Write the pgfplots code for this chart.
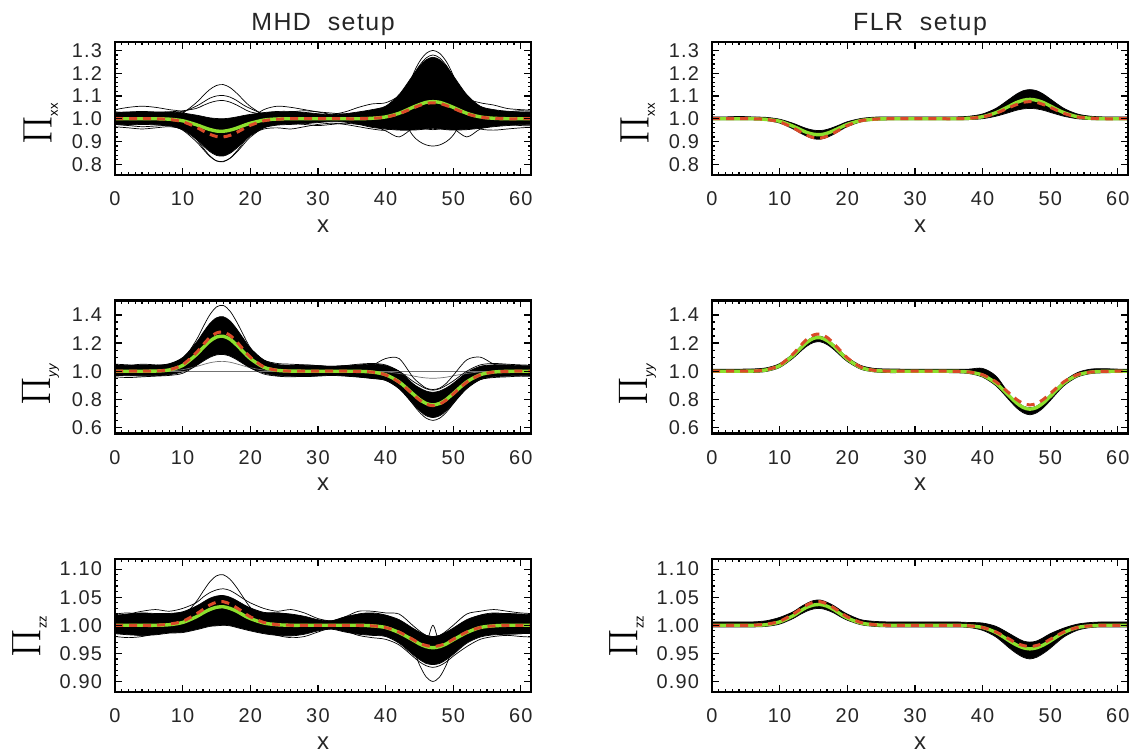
\documentclass[border=0pt]{standalone}
\usepackage[no-math]{fontspec}
\setmainfont{Liberation Sans}
\newfontfamily\idlfont[LetterSpace=6]{Liberation Sans}
\usepackage{pgfplots}
\usepackage{pgfplotstable}
\pgfplotsset{compat=1.18}
\definecolor{mgreen}{RGB}{140,224,45}
\definecolor{mred}{RGB}{218,74,40}

\pgfplotstableread{
x lo hi g r c1 c2 c3 c4 c5 c6 c7 c8
0 .975 1.028 1 1 1.01 .99 1.03 .975 1.04 .965 1.0 1.0
2 .972 1.03 1 1 1.02 .985 1.025 .97 1.05 .96 1.005 .995
4 .975 1.032 1 1 1.01 .99 1.02 .965 1.055 .955 1.015 .99
6 .973 1.03 1 1 1.0 .995 1.025 .968 1.05 .96 1.02 .985
8 .97 1.03 .998 .997 1.005 .99 1.03 .97 1.04 .965 1.02 .99
10 .952 1.025 .991 .987 1.025 .969 1.035 .95 1.03 .955 1.03 .975
12 .91 1.016 .974 .963 1.07 .911 1.045 .9 .99 .925 1.055 .94
13 .882 1.01 .963 .947 1.1 .873 1.058 .867 .96 .9 1.072 .92
14 .856 1.004 .953 .932 1.128 .838 1.07 .835 .93 .875 1.09 .898
15 .839 1.001 .946 .922 1.146 .815 1.078 .815 .91 .858 1.1 .885
16 .836 1.0 .945 .92 1.15 .811 1.08 .813 .905 .852 1.102 .882
17 .848 1.003 .95 .927 1.137 .827 1.073 .826 .915 .86 1.095 .89
18 .871 1.008 .959 .94 1.112 .858 1.06 .853 .94 .88 1.08 .91
19 .899 1.014 .97 .956 1.082 .896 1.044 .887 .97 .905 1.06 .935
20 .925 1.019 .98 .971 1.054 .932 1.03 .919 1.0 .93 1.045 .957
22 .96 1.027 .994 .991 1.017 .98 1.02 .961 1.04 .955 1.02 .985
24 .972 1.032 .999 .998 1.0 .996 1.025 .976 1.055 .96 1.01 .995
26 .975 1.032 1 1 .99 1.005 1.03 .98 1.05 .955 1.005 1.0
28 .978 1.028 1 1 .995 1.01 1.035 .975 1.04 .965 1.0 1.005
30 .983 1.022 1 1 1.005 1.0 1.03 .97 1.03 .975 .995 1.01
32 .987 1.018 1 1 1.01 .995 1.025 .975 1.02 .98 1.0 1.005
34 .985 1.022 1 1 1.005 .99 1.02 .98 1.03 .975 1.01 1.0
36 .975 1.03 1 1 1.0 .985 1.02 .975 1.05 .965 1.02 1.0
38 .962 1.04 1.002 1.002 1.007 .99 1.02 .97 1.065 .955 1.025 1.01
40 .955 1.055 1.008 1.007 1.01 1.025 1.02 .947 1.07 .95 1.04 1.03
42 .95 1.106 1.024 1.022 1.035 1.089 1.012 .92 1.1 .975 1.08 1.07
44 .95 1.189 1.05 1.046 1.19 1.185 .928 .958 1.15 1.04 1.16 1.03
45 .952 1.23 1.062 1.058 1.25 1.233 .9 .96 1.18 1.07 1.2 1.01
46 .955 1.259 1.072 1.067 1.287 1.267 .885 .955 1.195 1.09 1.23 1.0
47 .958 1.27 1.075 1.07 1.3 1.28 .88 .952 1.2 1.1 1.24 .995
48 .955 1.259 1.072 1.067 1.287 1.267 .885 .955 1.195 1.09 1.23 1.0
49 .952 1.23 1.062 1.058 1.25 1.233 .9 .96 1.18 1.07 1.2 1.01
50 .95 1.189 1.05 1.046 1.19 1.185 .928 .958 1.15 1.04 1.16 1.03
52 .952 1.106 1.024 1.022 1.035 1.089 1.012 .92 1.09 .98 1.08 1.07
54 .958 1.055 1.008 1.007 1.01 1.03 1.02 .955 1.07 .955 1.03 1.03
56 .965 1.04 1.002 1.002 1.007 1.01 1.025 .97 1.06 .95 1.015 1.01
58 .97 1.033 1 1 1.0 1.0 1.03 .975 1.045 .955 1.01 1.0
60 .973 1.03 1 1 .995 .99 1.035 .97 1.04 .96 1.005 .995
63 .975 1.028 1 1 1.0 .985 1.03 .968 1.035 .965 1.0 1.0
}\tA

\pgfplotstableread{
x lo hi g r b1 b2 b3 b4 b5 b6 b7
0 .97 1.04 1 1 1.01 1 1 .99 1.03 .96 1.05
2 .968 1.042 1 1 1.02 1 1 .995 1.04 .955 1.045
4 .966 1.045 1 1 1.015 1 1 1.0 1.05 .96 1.035
6 .968 1.043 1.001 1.001 1.005 1 1 1.005 1.045 .965 1.04
8 .975 1.053 1.009 1.01 1.017 1.003 1 1.01 1.04 .97 1.05
10 .995 1.097 1.041 1.046 1.077 1.011 1 1.03 1.06 .985 1.09
12 1.04 1.203 1.117 1.131 1.22 1.033 1 1.075 1.14 1.04 1.19
13 1.07 1.273 1.167 1.187 1.313 1.047 1 1.1 1.2 1.08 1.26
14 1.098 1.338 1.213 1.239 1.4 1.06 1 1.128 1.255 1.113 1.32
15 1.116 1.38 1.243 1.272 1.457 1.068 1 1.146 1.29 1.135 1.355
16 1.119 1.388 1.249 1.279 1.468 1.07 1 1.15 1.298 1.139 1.36
17 1.107 1.358 1.228 1.255 1.428 1.064 1 1.137 1.273 1.124 1.33
18 1.082 1.3 1.186 1.209 1.35 1.052 1 1.112 1.223 1.094 1.28
19 1.052 1.231 1.137 1.153 1.257 1.038 1 1.082 1.164 1.058 1.22
20 1.024 1.165 1.09 1.1 1.168 1.025 1 1.054 1.107 1.024 1.16
22 .987 1.079 1.028 1.031 1.052 1.008 1 1.017 1.045 .98 1.08
24 .968 1.048 1.006 1.006 1.01 1.002 1 1.0 1.03 .965 1.055
26 .965 1.042 1.001 1.001 1.0 1 1 .995 1.04 .96 1.05
28 .962 1.04 1 1 .99 1 1 .99 1.045 .965 1.045
30 .965 1.038 1 1 .995 1 1 .995 1.04 .97 1.04
32 .97 1.035 1 1 1.005 1 1 1.0 1.03 .975 1.035
34 .965 1.04 1 1 1.01 1 1 1.005 1.02 .97 1.04
36 .958 1.045 .999 .999 1.0 1 1 1.01 1.01 .96 1.05
38 .948 1.05 .994 .994 .99 .999 1 1.04 .99 .95 1.055
40 .935 1.04 .975 .974 .965 .995 1 1.09 .963 .935 1.045
42 .875 1.0 .924 .922 .9 .984 1 1.09 .889 .88 1.0
44 .771 .914 .841 .838 .8 .967 1 .96 .768 .79 .93
45 .72 .882 .8 .796 .75 .958 1 .915 .709 .74 .9
46 .683 .859 .771 .766 .715 .952 1 .88 .666 .71 .875
47 .67 .85 .76 .755 .7 .95 1 .87 .65 .7 .865
48 .683 .859 .771 .766 .715 .952 1 .88 .666 .71 .875
49 .72 .882 .8 .796 .75 .958 1 .915 .709 .74 .9
50 .771 .914 .841 .838 .8 .967 1 .97 .768 .79 .93
52 .875 .99 .924 .922 .9 .984 1 1.08 .889 .88 1.0
54 .94 1.035 .975 .974 .965 .995 1 1.1 .963 .94 1.045
56 .96 1.045 .994 .994 .99 .999 1 1.05 .99 .955 1.055
58 .965 1.045 .999 .999 1.0 1 1 1.02 1.0 .96 1.05
60 .968 1.04 1 1 1.005 1 1 1.01 1.01 .965 1.045
63 .97 1.04 1 1 1.01 1 1 1.0 1.02 .96 1.04
}\tB

\pgfplotstableread{
x lo hi g r z1 z2 z3 z4 z5
0 .985 1.018 1 1 1.01 .99 1.02 .98 1.015
2 .983 1.02 1 1 1.015 .985 1.022 .978 1.02
4 .982 1.022 1 1 1.01 .982 1.018 .98 1.025
6 .983 1.021 1 1 1.005 .985 1.012 .985 1.028
8 .986 1.021 1.001 1.002 1.005 .99 1.01 .99 1.025
10 .987 1.024 1.005 1.007 1.015 .995 1.01 .995 1.03
12 .992 1.034 1.015 1.02 1.042 1.015 1.008 1.008 1.04
13 .995 1.041 1.022 1.028 1.06 1.025 1.005 1.016 1.05
14 .998 1.048 1.028 1.036 1.077 1.035 1.003 1.023 1.058
15 .999 1.052 1.032 1.041 1.088 1.04 1.002 1.027 1.063
16 1.0 1.053 1.033 1.042 1.09 1.042 1.002 1.028 1.065
17 .999 1.05 1.03 1.038 1.082 1.038 1.003 1.025 1.062
18 .996 1.044 1.025 1.031 1.067 1.03 1.006 1.02 1.055
19 .993 1.037 1.018 1.023 1.049 1.02 1.01 1.012 1.047
20 .99 1.031 1.012 1.015 1.032 1.01 1.013 1.004 1.04
22 .985 1.023 1.004 1.005 1.01 .997 1.02 .99 1.03
24 .982 1.022 1.001 1.001 1.002 .99 1.022 .982 1.025
26 .981 1.02 1 1 .995 .985 1.018 .978 1.028
28 .984 1.016 1 1 .99 .99 1.01 .98 1.022
30 .99 1.01 1 1 .995 .995 1.003 .988 1.012
32 .993 1.008 1 1 1.0 .998 1.0 .995 1.008
34 .988 1.015 1 1 1.005 .995 1.01 .99 1.015
36 .984 1.02 1 1 1.01 .99 1.02 .982 1.025
38 .982 1.021 .999 .999 1.008 .99 1.022 .978 1.025
40 .98 1.018 .996 .996 1.0 .995 1.018 .975 1.022
42 .968 1.01 .987 .988 .985 1.005 1.005 .965 1.02
44 .948 .995 .974 .975 .96 .96 .965 .945 1.0
45 .939 .988 .967 .968 .95 .93 .948 .935 .99
46 .932 .982 .962 .964 .943 .908 .965 .928 .982
47 .93 .98 .96 .962 .94 .9 1.0 .925 .98
48 .932 .982 .962 .964 .943 .908 .965 .928 .982
49 .939 .988 .967 .968 .95 .93 .948 .935 .99
50 .948 .995 .974 .975 .96 .96 .965 .945 1.0
52 .968 1.01 .987 .988 .985 1.005 1.005 .962 1.02
54 .979 1.018 .996 .996 .995 1.0 1.018 .975 1.025
56 .983 1.021 .999 .999 1.0 .99 1.022 .98 1.028
58 .984 1.021 1 1 1.005 .985 1.02 .982 1.025
60 .985 1.02 1 1 1.01 .985 1.015 .98 1.022
63 .986 1.018 1 1 1.01 .99 1.01 .978 1.02
}\tC

\pgfplotstableread{
x lo hi g r
0 .995 1.008 1 1
2 .995 1.008 1 1
4 .995 1.01 1 1
6 .995 1.008 1 1
8 .992 1.006 .997 .997
10 .981 .998 .989 .986
12 .955 .98 .967 .96
13 .938 .968 .953 .943
14 .923 .957 .94 .928
15 .912 .95 .932 .917
16 .91 .948 .93 .915
17 .918 .953 .936 .923
18 .932 .963 .948 .937
19 .949 .975 .962 .954
20 .965 .987 .975 .97
22 .986 1.001 .992 .991
24 .993 1.007 .998 .998
26 .995 1.008 1 1
28 .995 1.008 1 1
30 .995 1.008 1 1
32 .995 1.008 1 1
34 .995 1.008 1 1
36 .995 1.008 1 1
38 .996 1.011 1.002 1.002
40 1.0 1.021 1.009 1.008
42 1.011 1.046 1.027 1.024
44 1.028 1.087 1.056 1.05
45 1.037 1.108 1.071 1.062
46 1.043 1.123 1.081 1.072
47 1.045 1.128 1.085 1.075
48 1.043 1.123 1.081 1.072
49 1.037 1.108 1.071 1.062
50 1.028 1.087 1.056 1.05
52 1.011 1.046 1.027 1.024
54 1.0 1.021 1.009 1.008
56 .996 1.011 1.002 1.002
58 .995 1.008 1 1
60 .995 1.008 1 1
63 .995 1.008 1 1
}\tD

\pgfplotstableread{
x lo hi g r
0 .99 1.015 1 1
2 .99 1.015 1 1
4 .99 1.015 1 1
6 .991 1.016 1.001 1.001
8 .998 1.024 1.009 1.01
10 1.026 1.054 1.039 1.043
12 1.093 1.125 1.112 1.124
13 1.137 1.172 1.16 1.177
14 1.177 1.215 1.204 1.226
15 1.204 1.244 1.234 1.258
16 1.209 1.249 1.239 1.264
17 1.19 1.229 1.218 1.241
18 1.154 1.19 1.179 1.197
19 1.11 1.143 1.131 1.145
20 1.069 1.099 1.086 1.095
22 1.014 1.041 1.026 1.029
24 .995 1.02 1.005 1.006
26 .99 1.016 1.001 1.001
28 .99 1.015 1 1
30 .99 1.015 1 1
32 .99 1.015 1 1
34 .99 1.015 1 1
36 .989 1.015 .999 .999
38 .983 1.015 .994 .994
40 .958 1.02 .972 .975
42 .895 .965 .914 .924
44 .791 .833 .821 .841
45 .74 .786 .775 .8
46 .704 .752 .742 .771
47 .69 .74 .73 .76
48 .704 .752 .742 .771
49 .74 .786 .775 .8
50 .791 .833 .821 .841
52 .895 .928 .914 .924
54 .958 .99 .972 .975
56 .983 1.015 .994 .994
58 .989 1.018 .999 .999
60 .99 1.015 1 1
63 .99 1.015 1 1
}\tE

\pgfplotstableread{
x lo hi g r
0 .997 1.006 1 1
2 .997 1.006 1 1
4 .997 1.006 1 1
6 .997 1.006 1 1
8 .998 1.008 1.001 1.002
10 1.002 1.014 1.006 1.007
12 1.012 1.024 1.017 1.02
13 1.019 1.032 1.025 1.028
14 1.025 1.039 1.032 1.036
15 1.029 1.044 1.036 1.041
16 1.03 1.045 1.037 1.042
17 1.027 1.041 1.034 1.038
18 1.022 1.035 1.028 1.031
19 1.015 1.027 1.02 1.023
20 1.009 1.02 1.013 1.015
22 1.001 1.01 1.004 1.005
24 .998 1.007 1.001 1.001
26 .997 1.006 1 1
28 .997 1.006 1 1
30 .997 1.006 1 1
32 .997 1.006 1 1
34 .997 1.006 1 1
36 .997 1.006 1 1
38 .996 1.005 .999 .999
40 .991 1.004 .996 .996
42 .979 .998 .987 .988
44 .959 .985 .972 .975
45 .95 .978 .965 .968
46 .943 .972 .96 .964
47 .94 .97 .958 .962
48 .943 .972 .96 .964
49 .95 .978 .965 .968
50 .959 .985 .972 .975
52 .979 .995 .987 .988
54 .991 1.002 .996 .996
56 .996 1.005 .999 .999
58 .997 1.006 1 1
60 .997 1.006 1 1
63 .997 1.006 1 1
}\tF

\pgfplotsset{
  every axis title shift=0pt,
  idl/.style={
    scale only axis,
    axis on top,
    width=208bp,
    xmin=0, xmax=61.5,
    xtick={0,10,20,30,40,50,60},
    minor x tick num=9,
    tick align=inside,
    major tick length=3.5bp,
    minor tick length=1.7bp,
    axis line style={line width=1.1bp},
    every tick/.append style={line width=0.6bp, black},
    tick label style={font=\fontsize{10}{11}\selectfont\idlfont, text=black!85},
    /pgf/number format/assume math mode=true,
    xticklabel style={yshift=-5bp},
    yticklabel style={xshift=-3bp},
    xlabel={x},
    xlabel style={at={(rel axis cs:0.5,0)}, anchor=center, yshift=-25.5bp, font=\fontsize{12}{12}\selectfont\idlfont, text=black!85},
    title style={at={(rel axis cs:0.5,1)}, anchor=center, yshift=8.5bp, font=\fontsize{12.5}{13}\selectfont\idlfont, text=black!85},
  },
  ens/.style={black, line width=0.35bp, smooth, tension=0.5},
  ensg/.style={black!55, line width=0.35bp, smooth, tension=0.5},
  grn/.style={mgreen, line width=1.7bp, smooth, tension=0.5},
  rdash/.style={mred, line width=1.5bp, dash pattern=on 4bp off 3bp, smooth, tension=0.5},
  bandhi/.style={fill=black, draw=none, smooth, tension=0.5},
  bandlo/.style={fill=white, draw=none, smooth, tension=0.5},
  pxx/.style={ymin=0.753, ymax=1.337, ytick={0.8,0.9,1.0,1.1,1.2,1.3}, minor y tick num=4,
    yticklabel style={/pgf/number format/.cd, fixed, fixed zerofill, precision=1}},
  pyy/.style={ymin=0.557, ymax=1.503, ytick={0.6,0.8,1.0,1.2,1.4}, minor y tick num=3,
    yticklabel style={/pgf/number format/.cd, fixed, fixed zerofill, precision=1}},
  pzz/.style={ymin=0.8812, ymax=1.118, ytick={0.90,0.95,1.00,1.05,1.10}, minor y tick num=4,
    yticklabel style={/pgf/number format/.cd, fixed, fixed zerofill, precision=2}},
}
\newcommand{\lab}[1]{\fontsize{22}{22}\selectfont$\Pi_{\mbox{\fontsize{6.5}{7}\selectfont #1}}$}

\begin{document}
\begin{tikzpicture}
\path[use as bounding box] (0,0) rectangle (568.5bp,376bp);

% ---------- MHD Pxx ----------
\begin{axis}[idl, pxx, at={(57.5bp,288.5bp)}, anchor=south west, height=66.5bp,
  title={MHD\ \ setup}, ylabel={\lab{xx}},
  ylabel style={at={(rel axis cs:-0.179,0.387)}, anchor=center}]
\addplot[bandhi] table[x=x,y=hi]{\tA} \closedcycle;
\addplot[bandlo] table[x=x,y=lo]{\tA} \closedcycle;
\addplot[ens] table[x=x,y=lo]{\tA};
\addplot[ens] table[x=x,y=hi]{\tA};
\addplot[ens] table[x=x,y=c1]{\tA};
\addplot[ens] table[x=x,y=c2]{\tA};
\addplot[ens] table[x=x,y=c3]{\tA};
\addplot[ens] table[x=x,y=c4]{\tA};
\addplot[ens] table[x=x,y=c5]{\tA};
\addplot[ens] table[x=x,y=c6]{\tA};
\addplot[ens] table[x=x,y=c7]{\tA};
\addplot[ens] table[x=x,y=c8]{\tA};
\addplot[grn] table[x=x,y=g]{\tA};
\addplot[rdash] table[x=x,y=r]{\tA};
\end{axis}

% ---------- MHD Pyy ----------
\begin{axis}[idl, pyy, at={(57.5bp,159.25bp)}, anchor=south west, height=66.5bp,
  ylabel={\lab{\itshape yy}},
  ylabel style={at={(rel axis cs:-0.179,0.368)}, anchor=center}]
\addplot[bandhi] table[x=x,y=hi]{\tB} \closedcycle;
\addplot[bandlo] table[x=x,y=lo]{\tB} \closedcycle;
\addplot[ens] table[x=x,y=lo]{\tB};
\addplot[ens] table[x=x,y=hi]{\tB};
\addplot[ens] table[x=x,y=b1]{\tB};
\addplot[ensg] table[x=x,y=b2]{\tB};
\addplot[ensg] table[x=x,y=b3]{\tB};
\addplot[ens] table[x=x,y=b4]{\tB};
\addplot[ens] table[x=x,y=b5]{\tB};
\addplot[ens] table[x=x,y=b6]{\tB};
\addplot[ens] table[x=x,y=b7]{\tB};
\addplot[grn] table[x=x,y=g]{\tB};
\addplot[rdash] table[x=x,y=r]{\tB};
\end{axis}

% ---------- MHD Pzz ----------
\begin{axis}[idl, pzz, at={(57.5bp,30bp)}, anchor=south west, height=66.5bp,
  ylabel={\lab{zz}},
  ylabel style={at={(rel axis cs:-0.206,0.42)}, anchor=center}]
\addplot[bandhi] table[x=x,y=hi]{\tC} \closedcycle;
\addplot[bandlo] table[x=x,y=lo]{\tC} \closedcycle;
\addplot[ens] table[x=x,y=lo]{\tC};
\addplot[ens] table[x=x,y=hi]{\tC};
\addplot[ens] table[x=x,y=z1]{\tC};
\addplot[ens] table[x=x,y=z2]{\tC};
\addplot[ens] table[x=x,y=z3]{\tC};
\addplot[ens] table[x=x,y=z4]{\tC};
\addplot[ens] table[x=x,y=z5]{\tC};
\addplot[grn] table[x=x,y=g]{\tC};
\addplot[rdash] table[x=x,y=r]{\tC};
\end{axis}

% ---------- FLR Pxx ----------
\begin{axis}[idl, pxx, at={(356bp,288.5bp)}, anchor=south west, height=66.5bp,
  title={FLR\ \ setup}, ylabel={\lab{xx}},
  ylabel style={at={(rel axis cs:-0.179,0.387)}, anchor=center}]
\addplot[bandhi] table[x=x,y=hi]{\tD} \closedcycle;
\addplot[bandlo] table[x=x,y=lo]{\tD} \closedcycle;
\addplot[ens] table[x=x,y=lo]{\tD};
\addplot[ens] table[x=x,y=hi]{\tD};
\addplot[grn] table[x=x,y=g]{\tD};
\addplot[rdash] table[x=x,y=r]{\tD};
\end{axis}

% ---------- FLR Pyy ----------
\begin{axis}[idl, pyy, at={(356bp,159.25bp)}, anchor=south west, height=66.5bp,
  ylabel={\lab{\itshape yy}},
  ylabel style={at={(rel axis cs:-0.179,0.368)}, anchor=center}]
\addplot[bandhi] table[x=x,y=hi]{\tE} \closedcycle;
\addplot[bandlo] table[x=x,y=lo]{\tE} \closedcycle;
\addplot[ens] table[x=x,y=lo]{\tE};
\addplot[ens] table[x=x,y=hi]{\tE};
\addplot[grn] table[x=x,y=g]{\tE};
\addplot[rdash] table[x=x,y=r]{\tE};
\end{axis}

% ---------- FLR Pzz ----------
\begin{axis}[idl, pzz, at={(356bp,30bp)}, anchor=south west, height=66.5bp,
  ylabel={\lab{zz}},
  ylabel style={at={(rel axis cs:-0.206,0.42)}, anchor=center}]
\addplot[bandhi] table[x=x,y=hi]{\tF} \closedcycle;
\addplot[bandlo] table[x=x,y=lo]{\tF} \closedcycle;
\addplot[ens] table[x=x,y=lo]{\tF};
\addplot[ens] table[x=x,y=hi]{\tF};
\addplot[grn] table[x=x,y=g]{\tF};
\addplot[rdash] table[x=x,y=r]{\tF};
\end{axis}
\end{tikzpicture}
\end{document}
